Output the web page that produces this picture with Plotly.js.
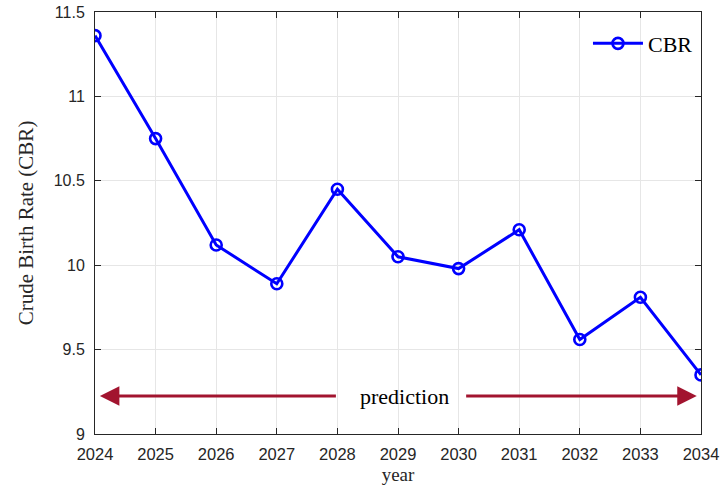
<!DOCTYPE html>
<html><head><meta charset="utf-8">
<script src="https://cdn.plot.ly/plotly-3.0.1.min.js"></script>
<style>html,body{margin:0;padding:0;background:#fff}</style>
</head><body>
<div id="chart" style="width:721px;height:485px"></div>
<script>
const years = [2024, 2025, 2026, 2027, 2028, 2029, 2030, 2031, 2032, 2033, 2034];
const cbr = [11.36, 10.75, 10.12, 9.89, 10.45, 10.05, 9.98, 10.21, 9.56, 9.81, 9.35];
const seriesName = 'CBR';
const arrowLevel = 9.225;
const leftArrow = {from: 2028.0, to: 2024.08};
const rightArrow = {from: 2030.1, to: 2033.93};
const labelX = 2029.1;
const labelText = 'prediction';

const serif = 'Liberation Serif, DejaVu Serif, serif';
const sans = 'Liberation Sans, Arial, sans-serif';
const red = '#A2142F';

const trace = {
  x: years, y: cbr, name: seriesName, type: 'scatter', mode: 'lines+markers',
  line: {color: '#0000FF', width: 3},
  marker: {symbol: 'circle-open', size: 11, color: '#0000FF', line: {width: 2.6, color: '#0000FF'}}
};

const arrowBase = {xref: 'x', yref: 'y', axref: 'x', ayref: 'y', text: '', showarrow: true,
  arrowhead: 2, arrowsize: 1.3, arrowwidth: 3, arrowcolor: red};

const layout = {
  width: 721, height: 485,
  margin: {l: 95, r: 20, t: 12, b: 51},
  paper_bgcolor: '#fff', plot_bgcolor: '#fff',
  showlegend: true,
  legend: {x: 0.995, y: 0.975, xanchor: 'right', yanchor: 'top', bgcolor: 'rgba(255,255,255,0)',
    itemwidth: 50,
    font: {family: serif, size: 22, color: '#000'}, borderwidth: 0},
  xaxis: {range: [2024, 2034], dtick: 1, tick0: 2024, ticks: 'inside', ticklen: 6, tickcolor: '#262626',
    showline: true, mirror: 'ticks', linecolor: '#262626', linewidth: 1,
    showgrid: true, gridcolor: '#e6e6e6', zeroline: false, ticklabelstandoff: 5,
    tickfont: {family: sans, size: 16.5, color: '#262626'},
    title: {text: 'year', font: {family: serif, size: 19, color: '#262626'}, standoff: 6}},
  yaxis: {range: [9, 11.5], dtick: 0.5, tick0: 9, ticks: 'inside', ticklen: 6, tickcolor: '#262626',
    showline: true, mirror: 'ticks', linecolor: '#262626', linewidth: 1,
    showgrid: true, gridcolor: '#e6e6e6', zeroline: false, ticklabelstandoff: 6,
    tickfont: {family: sans, size: 16, color: '#262626'},
    title: {text: 'Crude Birth Rate (CBR)', font: {family: serif, size: 21, color: '#262626'}, standoff: 14}},
  annotations: [
    Object.assign({}, arrowBase, {x: leftArrow.to, y: arrowLevel, ax: leftArrow.from, ay: arrowLevel}),
    Object.assign({}, arrowBase, {x: rightArrow.to, y: arrowLevel, ax: rightArrow.from, ay: arrowLevel}),
    {xref: 'x', yref: 'y', x: labelX, y: arrowLevel, text: labelText, showarrow: false,
      font: {family: serif, size: 22, color: '#000'}}
  ]
};

Plotly.newPlot('chart', [trace], layout, {displayModeBar: false, staticPlot: true});
</script>
</body></html>
